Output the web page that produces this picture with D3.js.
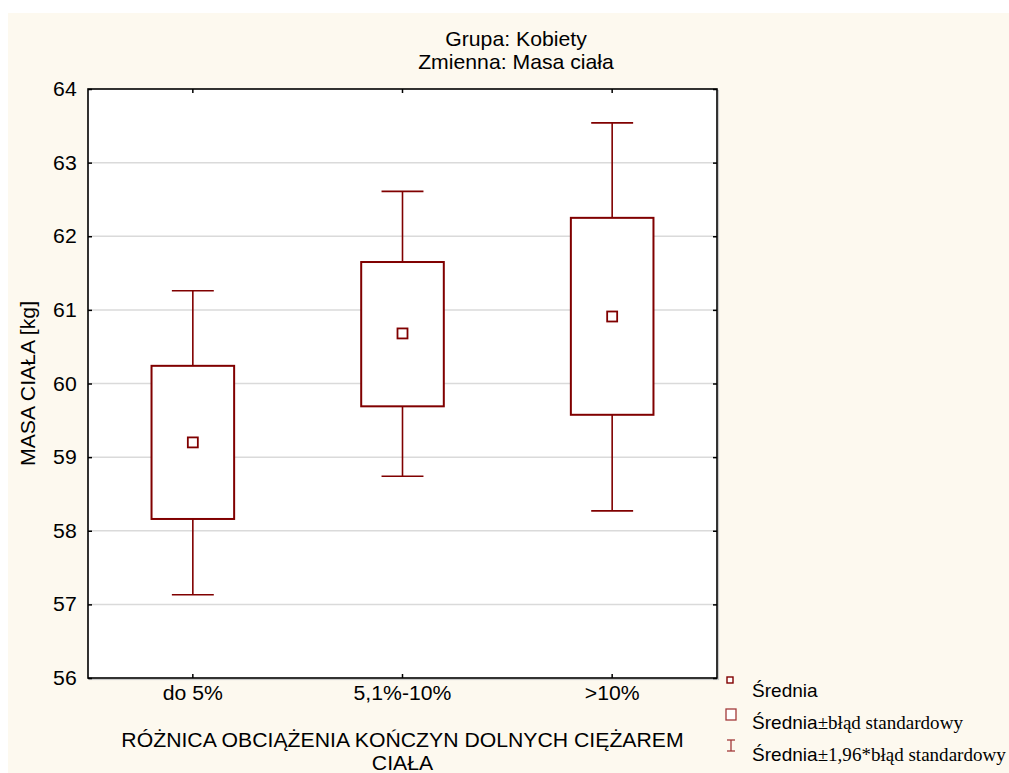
<!DOCTYPE html>
<html>
<head>
<meta charset="utf-8">
<script src="https://cdn.jsdelivr.net/npm/d3@7/dist/d3.min.js"></script>
<style>
  html, body { margin: 0; padding: 0; background: #ffffff; }
  svg { display: block; }
  text { font-family: "Liberation Sans", Arial, sans-serif; fill: #000; }
</style>
</head>
<body>
<svg id="chart" width="1009" height="773"></svg>
<script>
// Body mass of women by group: mean, ±SE box and ±1.96*SE whiskers
const categories = ["do 5%", "5,1%-10%", ">10%"];
const means  = [59.20, 60.68, 60.91];
const seLow  = [58.16, 59.69, 59.575];
const seHigh = [60.24, 61.65, 62.25];
const ciLow  = [57.13, 58.74, 58.27];
const ciHigh = [61.26, 62.61, 63.54];
const yTicks = [56, 57, 58, 59, 60, 61, 62, 63, 64];

const titleLines = ["Grupa: Kobiety", "Zmienna: Masa ciała"];
const xTitleLines = ["RÓŻNICA OBCIĄŻENIA KOŃCZYN DOLNYCH CIĘŻAREM", "CIAŁA"];
const yTitle = "MASA CIAŁA [kg]";
const legendLabels = [
  ["Średnia", ""],
  ["Średnia", "±błąd standardowy"],
  ["Średnia", "±1,96*błąd standardowy"]
];

const W = 1009, H = 773;
const plot = { left: 88, right: 717, top: 89, bottom: 678 };
const SX = 1.035;          // slight horizontal stretch of the lettering
const DARK = "#800000";
const FS = 20.5;

const svg = d3.select("#chart");

// page background
svg.append("rect").attr("x", 8).attr("y", 13).attr("width", W - 8).attr("height", H - 13)
  .attr("fill", "#fdf9ef");

const x = d3.scaleBand().domain(categories).range([plot.left, plot.right]).padding(0);
const y = d3.scaleLinear().domain([56, 64]).range([plot.bottom, plot.top]);

function label(parent, px, py, str, opts = {}) {
  const g = parent.append("g")
    .attr("transform", `translate(${px},${py})` + (opts.rotate ? ` rotate(${opts.rotate})` : "") + ` scale(${SX},1)`);
  return g.append("text")
    .attr("text-anchor", opts.anchor || "middle")
    .attr("font-size", opts.size || FS)
    .text(str);
}

// plot area
svg.append("rect")
  .attr("x", plot.left + 1.5).attr("y", plot.top + 1.5)
  .attr("width", plot.right - plot.left).attr("height", plot.bottom - plot.top)
  .attr("fill", "none").attr("stroke", "#c8c8c8").attr("stroke-width", 1.2);
svg.append("rect")
  .attr("x", plot.left).attr("y", plot.top)
  .attr("width", plot.right - plot.left).attr("height", plot.bottom - plot.top)
  .attr("fill", "#ffffff");

// horizontal grid
svg.append("g").selectAll("line")
  .data(yTicks.filter(t => t > 56 && t < 64))
  .join("line")
  .attr("x1", plot.left).attr("x2", plot.right)
  .attr("y1", d => y(d)).attr("y2", d => y(d))
  .attr("stroke", "#dadada").attr("stroke-width", 1.5);

// axes with inward ticks
const axLeft = svg.append("g").attr("transform", `translate(${plot.left},0)`)
  .call(d3.axisLeft(y).tickValues(yTicks).tickSizeInner(-4).tickSizeOuter(0).tickPadding(11).tickFormat(d3.format("d")));
const axRight = svg.append("g").attr("transform", `translate(${plot.right},0)`)
  .call(d3.axisRight(y).tickValues(yTicks).tickSizeInner(-4).tickSizeOuter(0).tickFormat(""));
const axBottom = svg.append("g").attr("transform", `translate(0,${plot.bottom})`)
  .call(d3.axisBottom(x).tickSizeInner(-4).tickSizeOuter(0).tickPadding(7));
const axTop = svg.append("g").attr("transform", `translate(0,${plot.top})`)
  .call(d3.axisTop(x).tickSizeInner(-4).tickSizeOuter(0).tickFormat(""));

[axLeft, axRight, axBottom, axTop].forEach(a => {
  a.select(".domain").remove();
  a.selectAll(".tick line").attr("stroke", "#000").attr("stroke-width", 1.5);
  a.selectAll("text")
    .attr("font-family", "Liberation Sans, Arial, sans-serif")
    .attr("font-size", FS).attr("fill", "#000");
});
axLeft.selectAll(".tick text").attr("transform", `scale(${SX},1)`).attr("x", -11.3 / SX);
axBottom.selectAll(".tick text").attr("transform", `scale(${SX},1)`);

// frame
svg.append("rect")
  .attr("x", plot.left).attr("y", plot.top)
  .attr("width", plot.right - plot.left).attr("height", plot.bottom - plot.top)
  .attr("fill", "none").attr("stroke", "#000").attr("stroke-width", 1.6);

// whiskers, boxes and means
const boxW = x.bandwidth() * 0.394;
const capW = x.bandwidth() * 0.2;
const groups = svg.append("g").selectAll("g").data(categories).join("g");

groups.each(function (c, i) {
  const g = d3.select(this);
  const cx = x(c) + x.bandwidth() / 2;
  // whisker stems
  g.append("line").attr("x1", cx).attr("x2", cx).attr("y1", y(ciHigh[i])).attr("y2", y(seHigh[i]))
    .attr("stroke", DARK).attr("stroke-width", 1.6);
  g.append("line").attr("x1", cx).attr("x2", cx).attr("y1", y(seLow[i])).attr("y2", y(ciLow[i]))
    .attr("stroke", DARK).attr("stroke-width", 1.6);
  // caps
  [ciHigh[i], ciLow[i]].forEach(v => {
    g.append("line").attr("x1", cx - capW / 2).attr("x2", cx + capW / 2)
      .attr("y1", y(v)).attr("y2", y(v))
      .attr("stroke", DARK).attr("stroke-width", 1.6);
  });
  // SE box
  g.append("rect")
    .attr("x", cx - boxW / 2).attr("y", y(seHigh[i]))
    .attr("width", boxW).attr("height", y(seLow[i]) - y(seHigh[i]))
    .attr("fill", "#ffffff").attr("stroke", DARK).attr("stroke-width", 2);
  // mean marker
  g.append("rect")
    .attr("x", cx - 5).attr("y", y(means[i]) - 5)
    .attr("width", 10).attr("height", 10)
    .attr("fill", "#ffffff").attr("stroke", DARK).attr("stroke-width", 1.8);
});

// titles
label(svg, 516, 46, titleLines[0]);
label(svg, 516, 69, titleLines[1]);
const xMid = (plot.left + plot.right) / 2;
label(svg, xMid, 747, xTitleLines[0]);
label(svg, xMid, 770, xTitleLines[1]);
label(svg, 35, (plot.top + plot.bottom) / 2, yTitle, { rotate: -90 });

// legend
const legend = svg.append("g");
const legY = [697, 729, 761];
legend.append("rect").attr("x", 727).attr("y", 677).attr("width", 6).attr("height", 6)
  .attr("fill", "#ffffff").attr("stroke", DARK).attr("stroke-width", 1.4);
legend.append("rect").attr("x", 726).attr("y", 709).attr("width", 10).attr("height", 11)
  .attr("fill", "#ffffff").attr("stroke", "#a33a3a").attr("stroke-width", 1.3);
legend.append("line").attr("x1", 731).attr("x2", 731).attr("y1", 740).attr("y2", 751)
  .attr("stroke", "#a33a3a").attr("stroke-width", 1.3);
legend.append("line").attr("x1", 727).attr("x2", 735).attr("y1", 740).attr("y2", 740)
  .attr("stroke", "#a33a3a").attr("stroke-width", 1.3);
legend.append("line").attr("x1", 727).attr("x2", 735).attr("y1", 751).attr("y2", 751)
  .attr("stroke", "#a33a3a").attr("stroke-width", 1.3);

legendLabels.forEach((parts, i) => {
  const t = label(legend, 752, legY[i], "", { anchor: "start", size: 18.4 });
  t.append("tspan").text(parts[0]);
  if (parts[1]) {
    t.append("tspan").attr("font-family", "Liberation Serif, 'Times New Roman', serif").text(parts[1]);
  }
});
</script>
</body>
</html>
